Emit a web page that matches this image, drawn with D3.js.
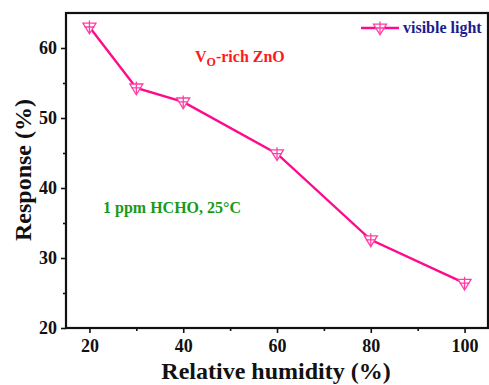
<!DOCTYPE html>
<html>
<head>
<meta charset="utf-8">
<script src="https://cdn.jsdelivr.net/npm/d3@7"></script>
<style>
  body { margin: 0; background: white; }
</style>
</head>
<body>
<div id="chart"></div>
<script>
// data
const humidity = [20, 30, 40, 60, 80, 100];
const response = [63.0, 54.3, 52.3, 44.9, 32.6, 26.4];
const xTicks = [20, 40, 60, 80, 100];
const yTicks = [20, 30, 40, 50, 60];
const seriesName = "visible light";

const fontFam = "'Liberation Serif', 'Times New Roman', Times, 'DejaVu Serif', serif";

const width = 489, height = 385;
const margin = {top: 13, right: 1, bottom: 57, left: 66};
const w = width - margin.left - margin.right;
const h = height - margin.top - margin.bottom;

const svg = d3.select("#chart").append("svg")
  .attr("width", width)
  .attr("height", height)
  .style("font-family", fontFam)
  .style("font-weight", "bold");

const g = svg.append("g")
  .attr("transform", "translate(" + margin.left + "," + margin.top + ")");

const xScale = d3.scaleLinear().domain([15, 105]).range([0, w]);
const yScale = d3.scaleLinear().domain([20, 65]).range([h, 0]);

// minor ticks first
g.append("g")
  .attr("transform", "translate(0," + h + ")")
  .call(d3.axisBottom(xScale).tickValues([30, 50, 70, 90]).tickSize(3).tickFormat(""))
  .call(a => a.select(".domain").remove());
g.append("g")
  .call(d3.axisLeft(yScale).tickValues([25, 35, 45, 55]).tickSize(3).tickFormat(""))
  .call(a => a.select(".domain").remove());

// major axes
let xAxis = g.append("g")
  .attr("transform", "translate(0," + h + ")")
  .call(d3.axisBottom(xScale).tickValues(xTicks).tickSize(5).tickPadding(6));
let yAxis = g.append("g")
  .call(d3.axisLeft(yScale).tickValues(yTicks).tickSize(5).tickPadding(4));

[xAxis, yAxis].forEach(a => {
  a.attr("font-family", null).attr("font-size", null);
  a.selectAll("text")
    .style("font-family", fontFam)
    .style("font-weight", "bold")
    .style("font-size", "18px")
    .attr("fill", "#111");
  a.select(".domain").remove();
});
g.selectAll(".tick line").attr("stroke", "#111").attr("stroke-width", 1.6);

// frame
g.append("rect")
  .attr("x", 0).attr("y", 0)
  .attr("width", w).attr("height", h)
  .attr("fill", "none")
  .attr("stroke", "#111")
  .attr("stroke-width", 2.2);

const lineColor = "#ff0a8c";
const markColor = "#ff3da5";

g.append("path")
  .datum(humidity.map((x, i) => [x, response[i]]))
  .attr("fill", "none")
  .attr("stroke", lineColor)
  .attr("stroke-width", 2.4)
  .attr("d", d3.line().x(d => xScale(d[0])).y(d => yScale(d[1])));

// hollow down-triangle with a cross inside
function marker(sel, cx, cy) {
  const s = 6.5;
  const m = sel.append("g").attr("transform", "translate(" + cx + "," + cy + ")");
  m.append("path")
    .attr("d", "M" + (-s) + "," + (-s * 0.6) + "L" + s + "," + (-s * 0.6) + "L0," + (s * 1.05) + "Z")
    .attr("fill", "white")
    .attr("stroke", markColor)
    .attr("stroke-width", 1.3);
  m.append("path")
    .attr("d", "M0," + (-s) + "V" + (s * 0.9) + "M" + (-s * 0.75) + ",0H" + (s * 0.75))
    .attr("stroke", markColor)
    .attr("stroke-width", 1.3);
}
humidity.forEach((x, i) => marker(g, xScale(x), yScale(response[i])));

// legend
const lg = svg.append("g");
lg.append("line")
  .attr("x1", 361).attr("x2", 399).attr("y1", 28).attr("y2", 28)
  .attr("stroke", lineColor).attr("stroke-width", 2.4);
marker(lg, 380, 28);
lg.append("text")
  .attr("x", 403).attr("y", 33)
  .style("font-size", "16px")
  .attr("fill", "#1c1c8e")
  .text(seriesName);

// annotations
const vo = svg.append("text")
  .attr("x", 195).attr("y", 62)
  .style("font-size", "16px")
  .attr("fill", "#ff1a1a");
vo.append("tspan").text("V");
vo.append("tspan").attr("dy", 4).style("font-size", "12px").text("O");
vo.append("tspan").attr("dy", -4).text("-rich ZnO");

svg.append("text")
  .attr("x", 103).attr("y", 213)
  .style("font-size", "16px")
  .attr("fill", "#189a18")
  .text("1 ppm HCHO, 25\u00B0C");

// axis titles
svg.append("text")
  .attr("x", margin.left + xScale(60) - 1).attr("y", 379)
  .attr("text-anchor", "middle")
  .style("font-size", "24px")
  .attr("fill", "#111")
  .text("Relative humidity (%)");

svg.append("text")
  .attr("transform", "translate(31,170) rotate(-90)")
  .attr("text-anchor", "middle")
  .style("font-size", "24px")
  .attr("fill", "#111")
  .text("Response (%)");
</script>
</body>
</html>
